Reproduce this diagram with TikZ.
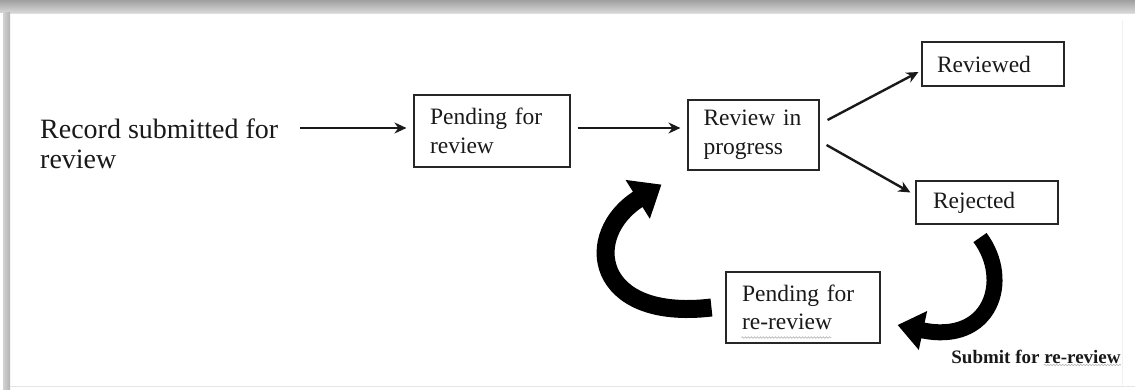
\documentclass[tikz,border=0pt]{standalone}
\usepackage{fontspec}
\setmainfont{Liberation Serif}
\usetikzlibrary{arrows.meta,decorations.pathmorphing}
\begin{document}
\begin{tikzpicture}[x=1pt,y=-1pt,
  box/.style={draw=black!85, line width=1.1pt, align=left, inner ysep=0pt, font=\fontsize{23.5}{28.5}\selectfont, text=black!90},
  arr/.style={line width=2.4pt, -{Stealth[length=12pt,width=11pt]}, black!90},
  bigarrowL/.style={line width=18pt, -{Triangle[length=28pt,width=44pt]}, black},
  bigarrowR/.style={line width=16pt, -{Triangle[length=26pt,width=38pt]}, black},
  wavy/.style={decorate, decoration={snake, amplitude=0.8pt, segment length=3pt}, gray!60, line width=0.6pt},
]
\useasboundingbox (0,0) rectangle (1135,390);
% frame
\shade[top color=gray!75, bottom color=gray!30] (0,0) rectangle (1135,13);
\shade[left color=gray!35, right color=gray!60] (3,13) rectangle (10,390);
\draw[gray!25, line width=1pt] (10,14) -- (1135,14);
\draw[gray!12, line width=0.8pt] (1122,20) -- (1122,385);
\draw[gray!20, line width=0.8pt] (10,386) -- (1135,386);

% nodes
\node[font=\fontsize{28}{30}\selectfont, text=black!90, align=left, anchor=west, inner sep=0] (rec) at (40,144) {Record submitted for\\review};
\node[box, text width=124pt, inner xsep=16pt, minimum height=72pt] (pend) at (492,131) {Pending for\\review};
\node[box, text width=100pt, inner xsep=15.5pt, minimum height=70pt] (prog) at (753.5,135) {Review in\\progress};
\node[box, text width=112pt, inner xsep=15pt, minimum height=44pt] (revd) at (993,64) {Reviewed};
\node[box, text width=108pt, inner xsep=17pt, minimum height=43pt] (rej) at (987,202.5) {Rejected};
\node[box, text width=122pt, inner xsep=16pt, minimum height=71pt] (rer) at (803,307.5) {Pending for\\re-review};
\node[font=\bfseries\fontsize{19}{22}\selectfont, text=black!90, inner sep=0] (lab) at (1036,357) {Submit for re-review};

% spell-check underlines
\draw[wavy] ([shift={(16,-6)}]rer.south west) -- ([shift={(106,-6)}]rer.south west);
\draw[wavy] ([xshift=-77pt,yshift=-1pt]lab.south east) -- ([yshift=-1pt]lab.south east);

% straight connectors
\draw[arr] ([xshift=22pt,yshift=16pt]rec.east) -- ([xshift=-7pt,yshift=3pt]pend.west);
\draw[arr] ([xshift=7pt,yshift=3pt]pend.east) -- ([xshift=-7pt,yshift=7pt]prog.west);
\draw[arr] ([xshift=8pt,yshift=15pt]prog.east) -- ([xshift=-3pt,yshift=-8pt]revd.west);
\draw[arr] ([xshift=7pt,yshift=-10pt]prog.east) -- ([xshift=-5pt,yshift=10pt]rej.west);

% curved connectors
\draw[bigarrowR] ([xshift=-7pt,yshift=-13pt]rej.south) .. controls +(32,43) and +(93,20) .. ([xshift=17pt,yshift=-17.5pt]rer.east);
\draw[bigarrowL] ([xshift=-14pt]rer.west) .. controls +(-118,14) and +(-80,50) .. ([xshift=-26pt,yshift=-14pt]prog.south west);
\end{tikzpicture}
\end{document}
